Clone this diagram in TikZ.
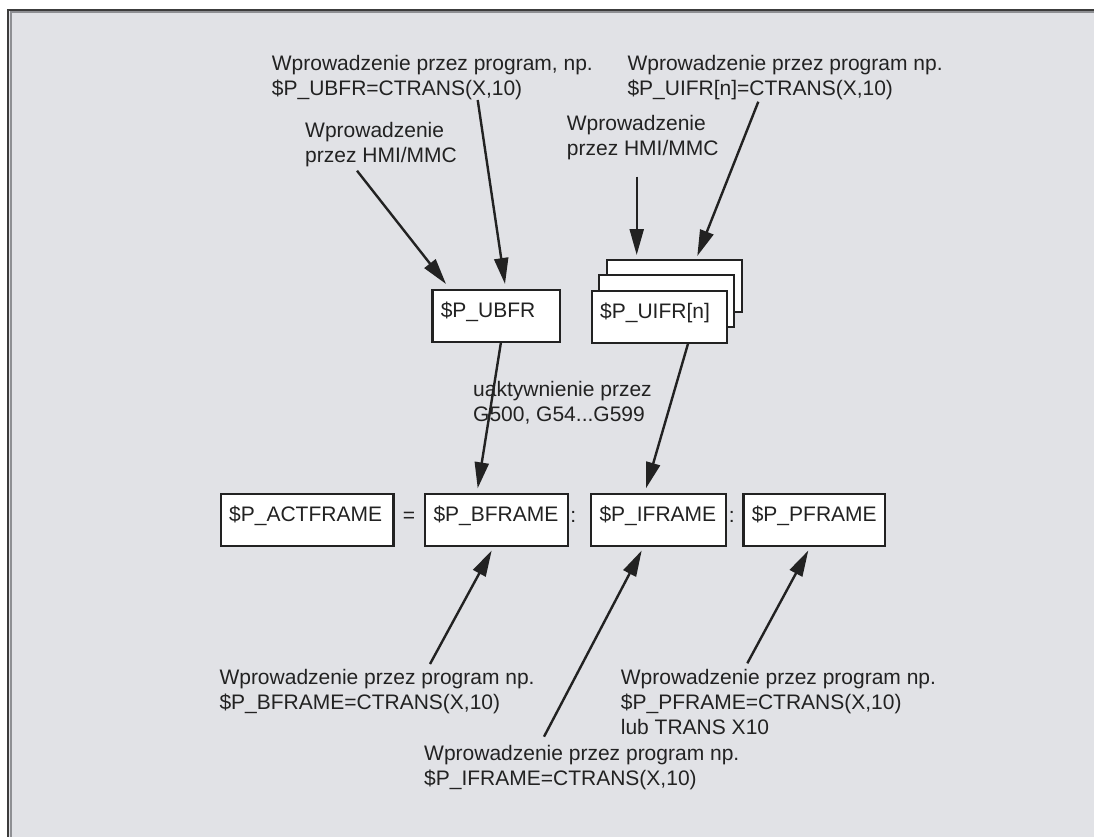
\documentclass[tikz,border=0pt]{standalone}
\usepackage{fontspec}
\setmainfont{Liberation Sans}
\usetikzlibrary{arrows.meta,calc}
\definecolor{panel}{HTML}{E1E2E6}
\definecolor{ink}{HTML}{222222}
\definecolor{rim}{HTML}{3C3C3C}
\definecolor{rimlight}{HTML}{8E8F93}

\begin{document}
\begin{tikzpicture}[x=1pt,y=-1pt,
  every node/.style={font=\fontsize{21}{25}\selectfont, text=ink},
  % captions are placed by the baseline of their last line
  caption/.style={inner sep=0pt, anchor=base west, align=left},
  framebox/.style={draw=ink, fill=white, line width=2.4pt, inner xsep=8.5pt,
    inner ysep=0pt, outer sep=0pt, anchor=north west, align=left,
    text height=15pt, text depth=11.5pt, minimum height=52pt},
  link/.style={draw=ink, line width=2.4pt, -{Triangle[length=26pt,width=14pt]}},
  sep/.style={inner sep=0pt, anchor=base}
]
\useasboundingbox (0,0) rectangle (1094,837);
\fill[white] (0,0) rectangle (1094,837);

% panel with its rim on the top and left edges
\begin{scope}
  \clip (0,0) rectangle (1094,837);
  \fill[panel] (9,11) rectangle (1120,860);
  \draw[rim, line width=1.8pt] (8.2,870) -- (8.2,10.2) -- (1120,10.2);
  \draw[rimlight, line width=2pt] (10.6,870) -- (10.6,12.4) -- (1120,12.4);
\end{scope}

% captions
\node[caption] (tprogU) at (271.7,96) {Wprowadzenie przez program, np.\\\$P\_UBFR=CTRANS(X,10)};
\node[caption] (thmiU) at (305,162.7) {Wprowadzenie\\przez HMI/MMC};
\node[caption] (tprogI) at (627.3,96) {Wprowadzenie przez program np.\\\$P\_UIFR[n]=CTRANS(X,10)};
\node[caption] (thmiI) at (566.7,156) {Wprowadzenie\\przez HMI/MMC};
\node[caption] (tact) at (473,421) {uaktywnienie przez\\G500, G54...G599};
\node[caption] (tB) at (219.3,709) {Wprowadzenie przez program np.\\\$P\_BFRAME=CTRANS(X,10)};
\node[caption] (tP) at (620.7,734) {Wprowadzenie przez program np.\\\$P\_PFRAME=CTRANS(X,10)\\lub TRANS X10};
\node[caption] (tI) at (424,785) {Wprowadzenie przez program np.\\\$P\_IFRAME=CTRANS(X,10)};

% settable frames
\node[framebox, text width=110.7pt] (ubfr) at (432.3,290) {\$P\_UBFR};
\node[framebox, text width=118pt] (uifrC) at (606.7,259.7) {};
\node[framebox, text width=118pt] (uifrB) at (599.2,275.2) {};
\node[framebox, text width=118pt] (uifr) at (591.7,290.7) {\$P\_UIFR[n]};

% chain of frames
\node[framebox, text width=155.6pt] (act) at (220.7,494) {\$P\_ACTFRAME};
\node[sep] (eq) at (409,522) {=};
\node[framebox, text width=125.7pt] (bfr) at (425,494) {\$P\_BFRAME};
\node[sep] (c1) at (573.3,522) {:};
\node[framebox, text width=118pt] (ifr) at (591,494) {\$P\_IFRAME};
\node[sep] (c2) at (731.7,522) {:};
\node[framebox, text width=124.7pt] (pfr) at (743.3,494) {\$P\_PFRAME};

% arrow origins next to the captions
\coordinate (sHmiU) at (357,170.7);
\coordinate (sProgU) at (477.7,100);
\coordinate (sHmiI) at (636.7,176.7);
\coordinate (sProgI) at (758.3,101.7);
\coordinate (sB) at (430,664);
\coordinate (sI) at (544,736.7);
\coordinate (sP) at (747.3,663.3);

% connectors
\draw[link] (sHmiU) -- ($(ubfr.north west)+(13.7,-6)$);
\draw[link] (sProgU) -- ($(ubfr.north west)+(72.7,-6)$);
\draw[link] (sHmiI) -- ($(uifrC.north west)+(30,-4.7)$);
\draw[link] (sProgI) -- ($(uifrC.north west)+(90.6,-3.7)$);
\draw[link] ($(ubfr.south west)+(68.7,0)$) -- ($(bfr.north west)+(52.7,-5.7)$);
\draw[link] ($(uifr.south west)+(96.6,0)$) -- ($(ifr.north west)+(55,-5.7)$);
\draw[link] (sB) -- ($(bfr.south west)+(66.7,4.5)$);
\draw[link] (sI) -- ($(ifr.south west)+(50.7,4.5)$);
\draw[link] (sP) -- ($(pfr.south west)+(65,4.5)$);
\end{tikzpicture}
\end{document}
